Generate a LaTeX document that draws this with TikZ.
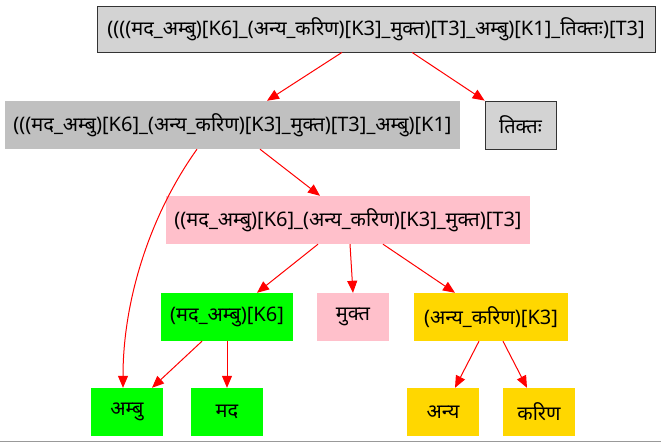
\documentclass[tikz,border=0pt]{standalone}
\usepackage{fontspec}
\setmainfont[Script=Devanagari]{Noto Sans}
\usetikzlibrary{arrows.meta}
\definecolor{lgray}{HTML}{D3D3D3}
\definecolor{mgray}{HTML}{C0C0C0}
\definecolor{pinkc}{HTML}{FFC0CB}
\definecolor{greenc}{HTML}{00FF00}
\definecolor{goldc}{HTML}{FFD700}
\tikzset{
  box/.style={inner sep=0pt, minimum height=48pt, font=\fontsize{20}{23}\selectfont},
  edge/.style={draw=red, line width=1pt, -{Triangle[length=12pt,width=10pt]}},
}
\begin{document}
\begin{tikzpicture}[x=1pt,y=-1pt]
\useasboundingbox (0,0) rectangle (661,443);
\draw[color=black!40, line width=1pt] (0,441) -- (661,441);
\node[box, fill=lgray, draw=black!80, line width=0.8pt, minimum width=558pt, minimum height=46pt] (root) at (376,29) {((((मद\_अम्बु)[K6]\_(अन्य\_करिण)[K3]\_मुक्त)[T3]\_अम्बु)[K1]\_तिक्तः)[T3]};
\node[box, fill=mgray, minimum width=455pt] (A) at (232.5,125) {(((मद\_अम्बु)[K6]\_(अन्य\_करिण)[K3]\_मुक्त)[T3]\_अम्बु)[K1]};
\node[box, fill=lgray, draw=black!80, line width=0.8pt, minimum width=71pt] (tik) at (520.5,125) {तिक्तः};
\node[box, fill=pinkc, minimum width=364pt] (B) at (348,220) {((मद\_अम्बु)[K6]\_(अन्य\_करिण)[K3]\_मुक्त)[T3]};
\node[box, fill=greenc, minimum width=132pt] (K6) at (227,317) {(मद\_अम्बु)[K6]};
\node[box, fill=pinkc, minimum width=72pt] (muk) at (353,317) {मुक्त};
\node[box, fill=goldc, minimum width=154pt] (K3) at (491,317) {(अन्य\_करिण)[K3]};
\node[box, fill=greenc, minimum width=72pt] (ambu) at (127,412) {अम्बु};
\node[box, fill=greenc, minimum width=72pt] (mada) at (227,412) {मद};
\node[box, fill=goldc, minimum width=72pt] (anya) at (443,412) {अन्य};
\node[box, fill=goldc, minimum width=72pt] (karin) at (539,412) {करिण};
\draw[edge] ([xshift=-34pt]root.south) -- ([xshift=34.5pt]A.north);
\draw[edge] ([xshift=36pt]root.south) -- (tik.north west);
\draw[edge] ([xshift=27.5pt]A.south) -- ([xshift=-28pt]B.north);
\draw[edge] ([xshift=-35.5pt]A.south) .. controls (150,215) and (123,300) .. ([xshift=-4pt]ambu.north);
\draw[edge] ([xshift=-30pt]B.south) -- ([xshift=30pt]K6.north);
\draw[edge] ([xshift=2pt]B.south) -- (muk.north);
\draw[edge] ([xshift=35pt]B.south) -- ([xshift=-36pt]K3.north);
\draw[edge] ([xshift=-25pt]K6.south) -- ([xshift=25pt]ambu.north);
\draw[edge] (K6.south) -- (mada.north);
\draw[edge] ([xshift=-12pt]K3.south) -- ([xshift=12pt]anya.north);
\draw[edge] ([xshift=12pt]K3.south) -- ([xshift=-12pt]karin.north);
\end{tikzpicture}
\end{document}
